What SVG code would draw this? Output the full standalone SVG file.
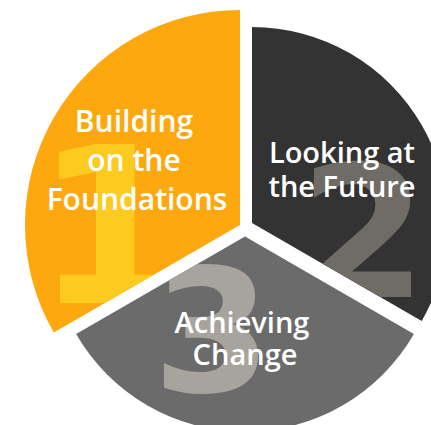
<svg xmlns="http://www.w3.org/2000/svg" width="431" height="425" viewBox="0 0 431 425">
<defs>
<style>
.lbl{font-family:"Open Sans","Liberation Sans",sans-serif;font-weight:600;fill:#ffffff;text-anchor:middle}
.num{font-family:"DejaVu Sans","Liberation Sans",sans-serif;font-weight:bold;text-anchor:middle}
</style>
<clipPath id="c1"><path d="M240,225 L240,10 A215,215 0 0,0 53.8,332.5 Z"/></clipPath>
<clipPath id="c2"><path d="M252,223 L252,27 A196,196 0 0,1 421.7,321 Z"/></clipPath>
<clipPath id="c3"><path d="M245,236.5 L413.9,334 A195,195 0 0,1 76.1,334 Z"/></clipPath>
</defs>
<rect width="431" height="425" fill="#ffffff"/>
<g id="segment1">
<path d="M240,225 L240,10 A215,215 0 0,0 53.8,332.5 Z" fill="#FDA80E"/>
<text class="num" x="110" y="303" font-size="217" fill="#FDCA1F" clip-path="url(#c1)">1</text>
<text class="lbl" font-size="30" x="134" y="132">Building</text>
<text class="lbl" font-size="30" x="134" y="171">on the</text>
<text class="lbl" font-size="30" x="137" y="210">Foundations</text>
</g>
<g id="segment2">
<path d="M252,223 L252,27 A196,196 0 0,1 421.7,321 Z" fill="#333333"/>
<text class="num" x="363" y="297" font-size="184" fill="#6F6C65" clip-path="url(#c2)">2</text>
<text class="lbl" font-size="29" x="342" y="163">Looking at</text>
<text class="lbl" font-size="29" x="342" y="197">the Future</text>
</g>
<g id="segment3">
<path d="M245,236.5 L413.9,334 A195,195 0 0,1 76.1,334 Z" fill="#6B6B6B"/>
<text class="num" x="212" y="392" font-size="171" fill="#A7A49D" clip-path="url(#c3)">3</text>
<text class="lbl" font-size="29" x="242" y="333">Achieving</text>
<text class="lbl" font-size="29" x="245" y="365">Change</text>
</g>
</svg>
